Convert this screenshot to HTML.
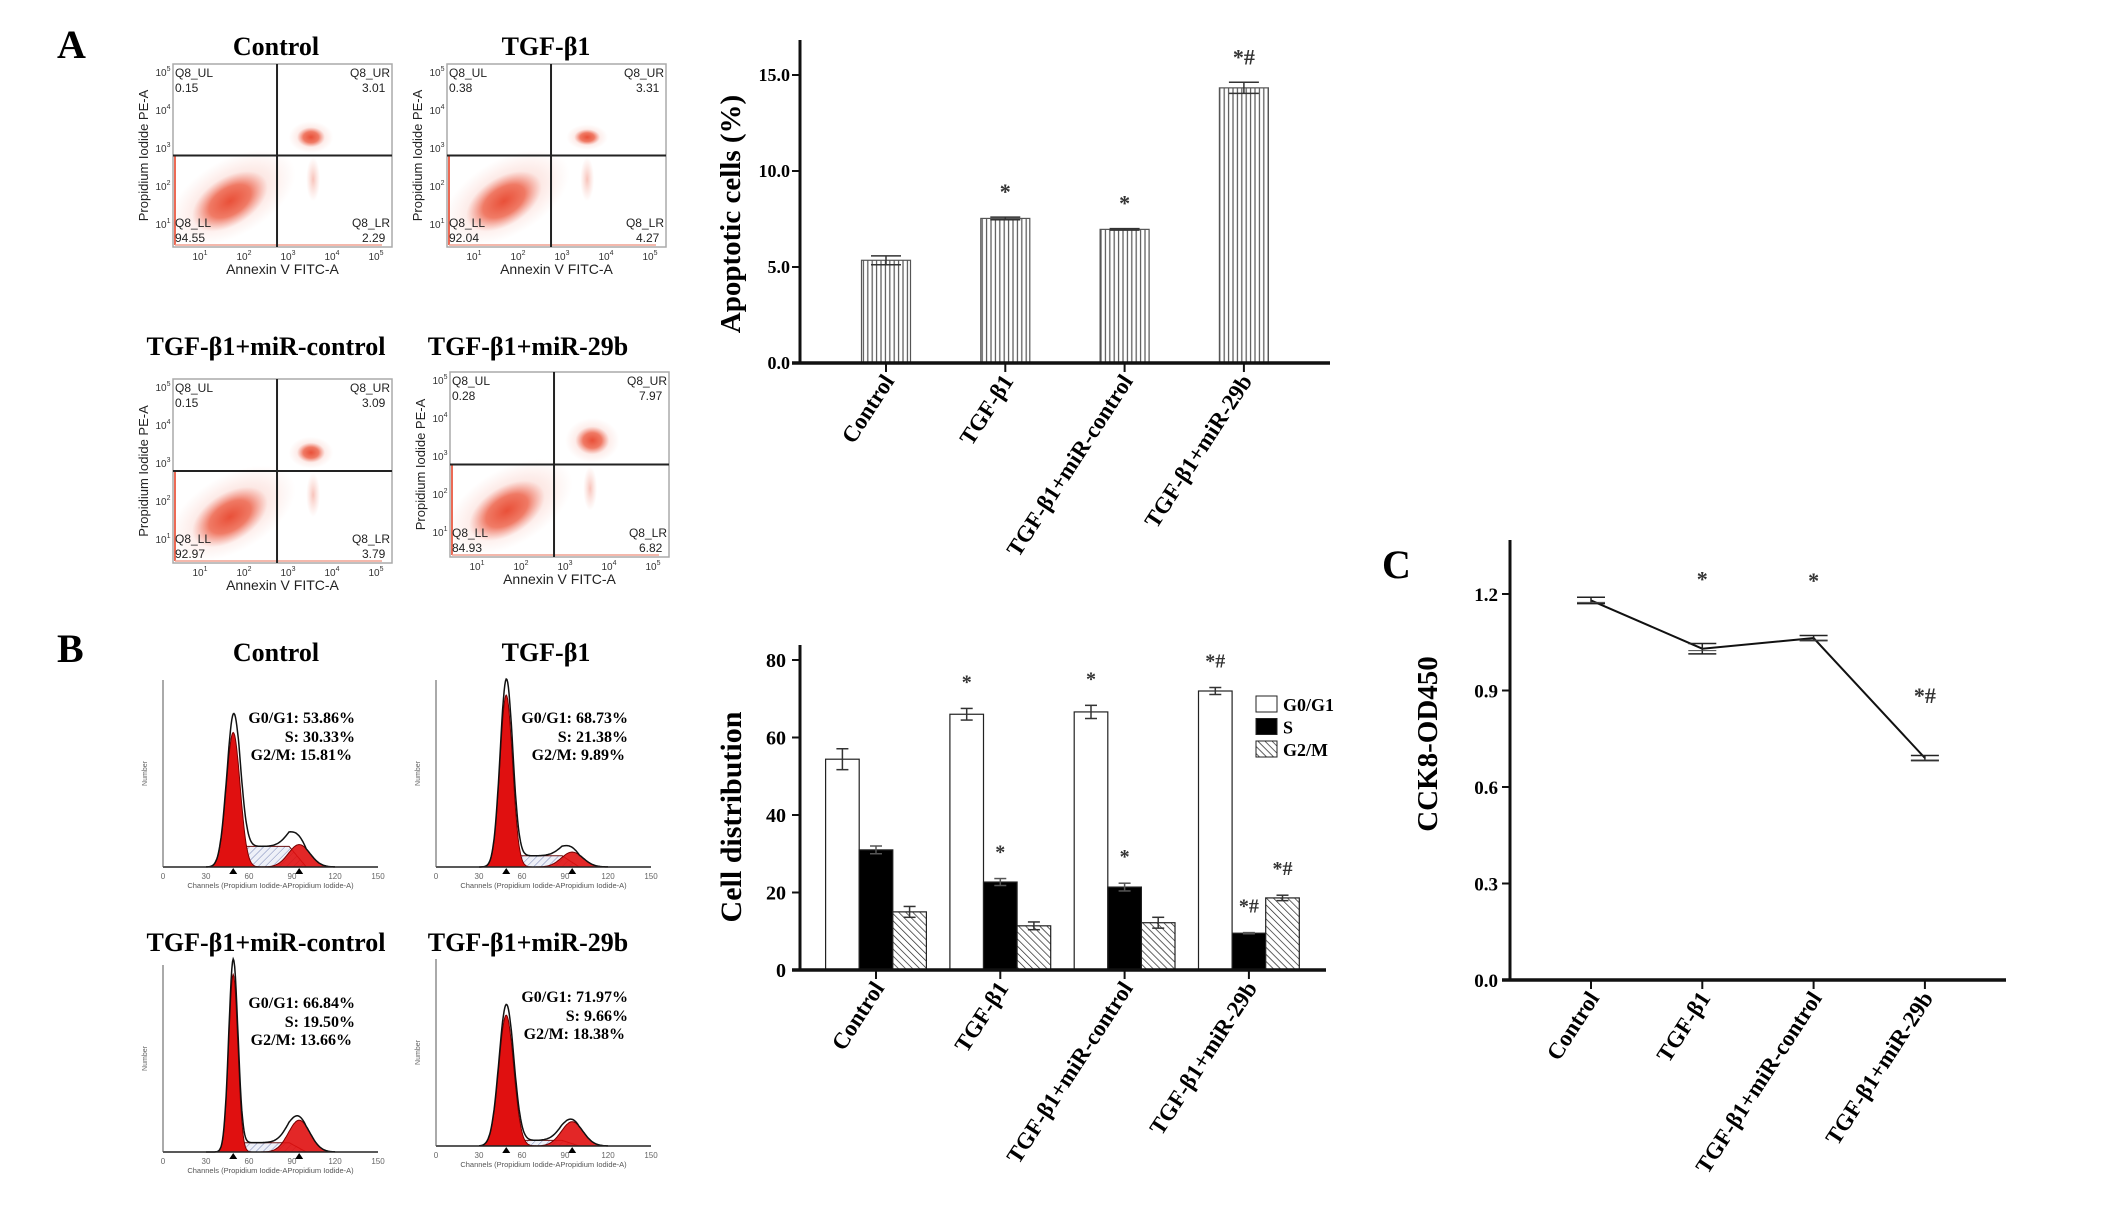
<!DOCTYPE html>
<html><head><meta charset="utf-8">
<style>
html,body{margin:0;padding:0;background:#fff;}
svg{display:block;}
.serif{font-family:"Liberation Serif","DejaVu Serif",serif;font-weight:bold;}
.sans{font-family:"Liberation Sans","DejaVu Sans",sans-serif;}
</style></head>
<body>
<svg id="fig" xmlns="http://www.w3.org/2000/svg" width="2126" height="1215" viewBox="0 0 2126 1215">
<defs>
<pattern id="vlines" width="4.4" height="10" patternUnits="userSpaceOnUse"><rect width="4.4" height="10" fill="#fff"/><line x1="1" y1="0" x2="1" y2="10" stroke="#555" stroke-width="1.2"/></pattern>
<pattern id="diag" width="5" height="5" patternUnits="userSpaceOnUse" patternTransform="rotate(-45)"><rect width="5" height="5" fill="#fff"/><line x1="0" y1="0" x2="0" y2="5" stroke="#222" stroke-width="1.4"/></pattern>
<pattern id="sHatch" width="5" height="5" patternUnits="userSpaceOnUse" patternTransform="rotate(45)"><rect width="5" height="5" fill="#eef0f8"/><line x1="0" y1="0" x2="0" y2="5" stroke="#7c88b8" stroke-width="1"/></pattern>
<radialGradient id="blob"><stop offset="0" stop-color="#e84a32" stop-opacity="0.95"/><stop offset="0.55" stop-color="#ec5a40" stop-opacity="0.75"/><stop offset="1" stop-color="#f08070" stop-opacity="0"/></radialGradient>
<radialGradient id="halo"><stop offset="0" stop-color="#f07a66" stop-opacity="0.45"/><stop offset="1" stop-color="#f5a090" stop-opacity="0"/></radialGradient>
</defs>
<g id="root"></g>
</svg>
<script>
// ---------- chart data ----------
const catLabels = ['Control','TGF-\u03b21','TGF-\u03b21+miR-control','TGF-\u03b21+miR-29b'];
const apopVals = [5.35, 7.53, 6.96, 14.33];
const apopErr = [0.23, 0.07, 0.04, 0.29];
const apopSig = ['', '*', '*', '*#'];
const apopTicks = [0, 5, 10, 15];
const apopTickLabels = ['0.0', '5.0', '10.0', '15.0'];

const g0Vals = [54.4, 66.0, 66.6, 72.0];
const g0Err = [2.7, 1.5, 1.7, 0.9];
const g0Sig = ['', '*', '*', '*#'];
const sVals = [31.0, 22.7, 21.4, 9.5];
const sErr = [1.0, 0.9, 1.0, 0.15];
const sSig = ['', '*', '*', '*#'];
const g2Vals = [15.0, 11.4, 12.2, 18.6];
const g2Err = [1.4, 1.0, 1.4, 0.7];
const g2Sig = ['', '', '', '*#'];
const distTicks = [0, 20, 40, 60, 80];
const distTickLabels = ['0', '20', '40', '60', '80'];
const legendLabels = ['G0/G1', 'S', 'G2/M'];

const cckVals = [1.18, 1.03, 1.063, 0.69];
const cckErr = [0.01, 0.016, 0.008, 0.008];
const cckSig = ['', '*', '*', '*#'];
const cckTicks = [0, 0.3, 0.6, 0.9, 1.2];
const cckTickLabels = ['0.0', '0.3', '0.6', '0.9', '1.2'];

const flowQuad = [['0.15','3.01','94.55','2.29'],['0.38','3.31','92.04','4.27'],['0.15','3.09','92.97','3.79'],['0.28','7.97','84.93','6.82']];
const cyclePct = [['53.86%','30.33%','15.81%'],['68.73%','21.38%','9.89%'],['66.84%','19.50%','13.66%'],['71.97%','9.66%','18.38%']];

const NS = 'http://www.w3.org/2000/svg';
const root = document.getElementById('root');
function mk(tag, attrs, parent){
  const e = document.createElementNS(NS, tag);
  for (const k in attrs) e.setAttribute(k, attrs[k]);
  (parent || root).appendChild(e);
  return e;
}
function txt(str, attrs, parent){ const e = mk('text', attrs, parent); e.textContent = str; return e; }

// ---------- panel letters and titles ----------
let t;
t = txt('A', {x:57, y:58, 'font-size':40, class:'serif'});


t = txt('B', {x:57, y:662, 'font-size':40, class:'serif'});


t = txt('C', {x:1382, y:578, 'font-size':40, class:'serif'});



// ---------- flow cytometry panels ----------
const flowBoxes = [[173,64,219,183],[447,64,219,183],[173,379,219,184],[450,372,219,185]];
const flowTitleXY = [[276,55],[546,55],[266,355],[528,355]];
const flowUR = [[0.63,0.40,14,10],[0.64,0.40,13,8],[0.63,0.40,14,10],[0.65,0.37,17,14]];
function sup(g, x, y, e){
  const tt = txt('10', {x:x, y:y, 'font-size':10, class:'sans', fill:'#333', 'text-anchor':'middle'}, g);
  const s = mk('tspan', {dy:-5, 'font-size':7}, tt); s.textContent = e;
}
flowBoxes.forEach((b, i) => {
  const [x,y,w,h] = b;
  const g = mk('g', {});
  
  
  const tl = txt(catLabels[i], {x:flowTitleXY[i][0], y:flowTitleXY[i][1], 'font-size':26, class:'serif', 'text-anchor':'middle'}, g);
  
  mk('rect', {x:x, y:y, width:w, height:h, fill:'#fff', stroke:'#aaa', 'stroke-width':1.5}, g);
  mk('ellipse', {cx:x+0.27*w, cy:y+0.73*h, rx:70, ry:38, fill:'url(#halo)', transform:`rotate(-30 ${x+0.27*w} ${y+0.73*h})`}, g);
  mk('ellipse', {cx:x+0.26*w, cy:y+0.75*h, rx:42, ry:24, fill:'url(#blob)', transform:`rotate(-32 ${x+0.26*w} ${y+0.75*h})`}, g);
  mk('line', {x1:x+2, y1:y+0.5*h, x2:x+2, y2:y+h-2, stroke:'#ec6a55', 'stroke-width':2}, g);
  mk('line', {x1:x+2, y1:y+h-2, x2:x+w-10, y2:y+h-2, stroke:'#f0a090', 'stroke-width':1.5}, g);
  const u = flowUR[i];
  mk('ellipse', {cx:x+u[0]*w, cy:y+u[1]*h, rx:u[2]*1.6, ry:u[3]*1.6, fill:'url(#halo)'}, g);
  mk('ellipse', {cx:x+u[0]*w, cy:y+u[1]*h, rx:u[2], ry:u[3], fill:'url(#blob)'}, g);
  mk('ellipse', {cx:x+0.64*w, cy:y+0.63*h, rx:7, ry:22, fill:'url(#halo)'}, g);
  mk('line', {x1:x+0.475*w, y1:y, x2:x+0.475*w, y2:y+h, stroke:'#222', 'stroke-width':2}, g);
  mk('line', {x1:x, y1:y+0.5*h, x2:x+w, y2:y+0.5*h, stroke:'#222', 'stroke-width':2}, g);
  const q = flowQuad[i];
  const fs = {'font-size':12, class:'sans', fill:'#222'};
  txt('Q8_UL', Object.assign({x:x+2, y:y+13}, fs), g);
  txt(q[0], Object.assign({x:x+2, y:y+28}, fs), g);
  txt('Q8_UR', Object.assign({x:x+w-2, y:y+13, 'text-anchor':'end'}, fs), g);
  txt(q[1], Object.assign({x:x+w-30, y:y+28}, fs), g);
  txt('Q8_LL', Object.assign({x:x+2, y:y+h-20}, fs), g);
  txt(q[2], Object.assign({x:x+2, y:y+h-5}, fs), g);
  txt('Q8_LR', Object.assign({x:x+w-2, y:y+h-20, 'text-anchor':'end'}, fs), g);
  txt(q[3], Object.assign({x:x+w-30, y:y+h-5}, fs), g);
  [5,4,3,2,1].forEach((e, k) => sup(g, x-10, y+12+k*38, e));
  [1,2,3,4,5].forEach((e, k) => sup(g, x+27+k*44, y+h+13, e));
  txt('Annexin V FITC-A', {x:x+w/2, y:y+h+27, 'font-size':14, class:'sans', fill:'#222', 'text-anchor':'middle'}, g);
  txt('Propidium Iodide PE-A', {x:0, y:0, 'font-size':13, class:'sans', fill:'#222', 'text-anchor':'middle', transform:`translate(${x-25} ${y+h/2}) rotate(-90)`}, g);
});

// ---------- cell-cycle histograms ----------
const histBoxes = [[163,867,215,187],[436,867,215,187],[163,1152,215,187],[436,1146,215,187]];
const histTitleXY = [[276,661],[546,661],[266,951],[528,951]];
const histG1H = [0.72, 0.92, 0.95, 0.70];
const histG1W = [4.8, 4.4, 3.2, 5.2];
const histG2H = [0.12, 0.08, 0.17, 0.13];
const histSH = [0.11, 0.06, 0.05, 0.03];
function gauss(c, m, s){ return Math.exp(-0.5*((c-m)/s)*((c-m)/s)); }
histBoxes.forEach((b, i) => {
  const [x0, base, w, h] = b;
  const g = mk('g', {});
  
  
  txt(catLabels[i], {x:histTitleXY[i][0], y:histTitleXY[i][1], 'font-size':26, class:'serif', 'text-anchor':'middle'}, g);
  const X = c => x0 + c/150*w, Y = f => base - f*h;
  const g1m = 49, g2m = 95;
  let pG1 = '', pG2 = '', pO = '';
  const sPts = [];
  for (let c = 30; c <= 120; c += 0.5){
    const a = histG1H[i]*gauss(c, g1m, histG1W[i]);
    const bq = histG2H[i]*gauss(c, g2m, 7.5);
    const s = (c > 45 && c < 100) ? histSH[i]*Math.min(1,(c-45)/8)*Math.min(1,(100-c)/12) : 0;
    pG1 += (pG1?'L':'M') + X(c).toFixed(1) + ' ' + Y(a).toFixed(1);
    pG2 += (pG2?'L':'M') + X(c).toFixed(1) + ' ' + Y(bq).toFixed(1);
    sPts.push(X(c).toFixed(1) + ' ' + Y(s).toFixed(1));
    pO += (pO?'L':'M') + X(c).toFixed(1) + ' ' + Y(a*1.06+bq+s).toFixed(1);
  }
  mk('path', {d:'M'+X(30)+' '+base+' L'+sPts.join(' L')+' L'+X(120)+' '+base+' Z', fill:'url(#sHatch)', stroke:'#6a1010', 'stroke-width':1}, g);
  mk('path', {d:pG1+' Z', fill:'#e01010', stroke:'#700', 'stroke-width':1}, g);
  mk('path', {d:pG2+' Z', fill:'#e01010', 'fill-opacity':0.9, stroke:'#700', 'stroke-width':1}, g);
  mk('path', {d:pO, fill:'none', stroke:'#111', 'stroke-width':1.5}, g);
  mk('line', {x1:x0, y1:base, x2:x0+w, y2:base, stroke:'#222', 'stroke-width':1.5}, g);
  mk('line', {x1:x0, y1:base, x2:x0, y2:base-h, stroke:'#555', 'stroke-width':1}, g);
  for (let k = 0; k <= 150; k += 30){
    txt(String(k), {x:X(k), y:base+12, 'font-size':8, class:'sans', fill:'#666', 'text-anchor':'middle'}, g);
  }
  mk('path', {d:`M${X(g1m)-4} ${base+7} L${X(g1m)+4} ${base+7} L${X(g1m)} ${base+1} Z`, fill:'#000'}, g);
  mk('path', {d:`M${X(g2m)-4} ${base+7} L${X(g2m)+4} ${base+7} L${X(g2m)} ${base+1} Z`, fill:'#000'}, g);
  txt('Channels (Propidium Iodide-APropidium Iodide-A)', {x:x0+w/2, y:base+21, 'font-size':7.5, class:'sans', fill:'#555', 'text-anchor':'middle'}, g);
  txt('Number', {x:0, y:0, 'font-size':7, class:'sans', fill:'#666', 'text-anchor':'middle', transform:`translate(${x0-16} ${base-h/2}) rotate(-90)`}, g);
  const p = cyclePct[i];
  const tx = x0 + 192;
  txt('G0/G1: ' + p[0], {x:tx, y:base-144, 'font-size':16, class:'serif', 'text-anchor':'end'}, g);
  txt('S: ' + p[1], {x:tx, y:base-125, 'font-size':16, class:'serif', 'text-anchor':'end'}, g);
  txt('G2/M: ' + p[2], {x:tx-3, y:base-107, 'font-size':16, class:'serif', 'text-anchor':'end'}, g);
});

// ---------- shared helpers for axes ----------
function errBar(g, cx, yTop, yBot, half, col){
  mk('line', {x1:cx, y1:yTop, x2:cx, y2:yBot, stroke:col, 'stroke-width':1.5}, g);
  mk('line', {x1:cx-half, y1:yTop, x2:cx+half, y2:yTop, stroke:col, 'stroke-width':1.5}, g);
  mk('line', {x1:cx-half, y1:yBot, x2:cx+half, y2:yBot, stroke:col, 'stroke-width':1.5}, g);
}
function xLabels(g, xs, yTop){
  catLabels.forEach((c, i) => {
    const e = txt(c, {x:0, y:0, 'font-size':23, class:'serif', 'text-anchor':'end', transform:`translate(${xs(i)+9} ${yTop}) rotate(-57)`}, g);
    
    
  });
}

// ---------- apoptosis bar chart ----------
{
  const g = mk('g', {});
  
  
  const x0 = 800, base = 363, top = 40, xEnd = 1330;
  const yA = v => base - v*(base - 75)/15;
  const xA = i => 886 + i*119.3;
  const bw = 49;
  apopVals.forEach((v, i) => {
    const r = mk('rect', {x:xA(i)-bw/2, y:yA(v), width:bw, height:base-yA(v), fill:'url(#vlines)', stroke:'#555', 'stroke-width':1.2}, g);
    
    
    errBar(g, xA(i), yA(v+apopErr[i]), yA(v-apopErr[i]), 15, '#333');
    if (apopSig[i]) txt(apopSig[i], {x:xA(i), y:yA(v+apopErr[i])-18, 'font-size':22, class:'serif', 'font-weight':'normal', 'text-anchor':'middle', fill:'#333'}, g);
  });
  mk('line', {x1:x0, y1:top, x2:x0, y2:base, stroke:'#111', 'stroke-width':3}, g);
  mk('line', {x1:x0-8, y1:base, x2:xEnd, y2:base, stroke:'#111', 'stroke-width':3.5}, g);
  apopTicks.forEach((v, k) => {
    mk('line', {x1:x0-8, y1:yA(v), x2:x0, y2:yA(v), stroke:'#111', 'stroke-width':2}, g);
    txt(apopTickLabels[k], {x:x0-10, y:yA(v)+6, 'font-size':18, class:'serif', 'text-anchor':'end'}, g);
  });
  apopVals.forEach((v, i) => mk('line', {x1:xA(i), y1:base, x2:xA(i), y2:base+9, stroke:'#111', 'stroke-width':2}, g));
  const yt = txt('Apoptotic cells (%)', {x:0, y:0, 'font-size':29, class:'serif', 'text-anchor':'middle', transform:'translate(740 214) rotate(-90)'}, g);
  
  
  xLabels(g, xA, base+18);
}

// ---------- cell distribution grouped bar chart ----------
{
  const g = mk('g', {});
  
  
  const x0 = 800, base = 970, top = 645, xEnd = 1326;
  const yB = v => base - v*(base - 660)/80;
  const xB = i => 876 + i*124.3;
  const bw = 33.6;
  const series = [[g0Vals, g0Err, g0Sig, '#fff', 'g0g1'], [sVals, sErr, sSig, '#000', 's'], [g2Vals, g2Err, g2Sig, 'url(#diag)', 'g2m']];
  series.forEach((s, j) => {
    s[0].forEach((v, i) => {
      const cx = xB(i) + (j-1)*bw;
      const r = mk('rect', {x:cx-bw/2, y:yB(v), width:bw, height:base-yB(v), fill:s[3], stroke:'#222', 'stroke-width':1.2}, g);
      
      
      errBar(g, cx, yB(v+s[1][i]), yB(v-s[1][i]), 6, j === 1 ? '#555' : '#333');
      if (s[2][i]) txt(s[2][i], {x:cx, y:yB(v+s[1][i])-20, 'font-size':20, class:'serif', 'font-weight':'normal', 'text-anchor':'middle', fill:'#333'}, g);
    });
  });
  mk('line', {x1:x0, y1:top, x2:x0, y2:base, stroke:'#111', 'stroke-width':3}, g);
  mk('line', {x1:x0-8, y1:base, x2:xEnd, y2:base, stroke:'#111', 'stroke-width':3.5}, g);
  distTicks.forEach((v, k) => {
    mk('line', {x1:x0-8, y1:yB(v), x2:x0, y2:yB(v), stroke:'#111', 'stroke-width':2}, g);
    txt(distTickLabels[k], {x:x0-14, y:yB(v)+7, 'font-size':20, class:'serif', 'text-anchor':'end'}, g);
  });
  g0Vals.forEach((v, i) => mk('line', {x1:xB(i), y1:base, x2:xB(i), y2:base+9, stroke:'#111', 'stroke-width':2}, g));
  const yt = txt('Cell distribution', {x:0, y:0, 'font-size':30, class:'serif', 'text-anchor':'middle', transform:'translate(741 817) rotate(-90)'}, g);
  
  
  const fills = ['#fff', '#000', 'url(#diag)'];
  legendLabels.forEach((l, k) => {
    const lg = mk('g', {}, g);
    
    
    mk('rect', {x:1256, y:696+k*22.5, width:21, height:16, fill:fills[k], stroke:'#222', 'stroke-width':1}, lg);
    txt(l, {x:1283, y:711+k*22.5, 'font-size':18, class:'serif'}, lg);
  });
  xLabels(g, xB, base+18);
}

// ---------- CCK8 line chart ----------
{
  const g = mk('g', {});
  
  
  const x0 = 1510, base = 980, top = 540, xEnd = 2006;
  const yC = v => base - v*(base - 594)/1.2;
  const xC = i => 1591 + i*111.3;
  const pts = cckVals.map((v, i) => xC(i).toFixed(1) + ',' + yC(v).toFixed(1)).join(' ');
  const ln = mk('polyline', {points:pts, fill:'none', stroke:'#111', 'stroke-width':2}, g);
  
  
  cckVals.forEach((v, i) => {
    errBar(g, xC(i), yC(v+cckErr[i]), yC(v-cckErr[i]), 14, '#222');
    mk('line', {x1:xC(i)-14, y1:yC(v)+2, x2:xC(i)+14, y2:yC(v)+2, stroke:'#444', 'stroke-width':1}, g);
    if (cckSig[i]) txt(cckSig[i], {x:xC(i), y:yC(v) - (i === 3 ? 55 : 50) - (i === 1 ? 12 : 0), 'font-size':22, class:'serif', 'font-weight':'normal', 'text-anchor':'middle', fill:'#333'}, g);
  });
  mk('line', {x1:x0, y1:top, x2:x0, y2:base, stroke:'#111', 'stroke-width':3}, g);
  mk('line', {x1:x0-8, y1:base, x2:xEnd, y2:base, stroke:'#111', 'stroke-width':3.5}, g);
  cckTicks.forEach((v, k) => {
    mk('line', {x1:x0-8, y1:yC(v), x2:x0, y2:yC(v), stroke:'#111', 'stroke-width':2}, g);
    txt(cckTickLabels[k], {x:x0-12, y:yC(v)+7, 'font-size':19, class:'serif', 'text-anchor':'end'}, g);
  });
  cckVals.forEach((v, i) => mk('line', {x1:xC(i), y1:base, x2:xC(i), y2:base+9, stroke:'#111', 'stroke-width':2}, g));
  const yt = txt('CCK8-OD450', {x:0, y:0, 'font-size':29, class:'serif', 'text-anchor':'middle', transform:'translate(1437 744) rotate(-90)'}, g);
  
  
  xLabels(g, xC, base+18);
}
</script>
</body></html>
